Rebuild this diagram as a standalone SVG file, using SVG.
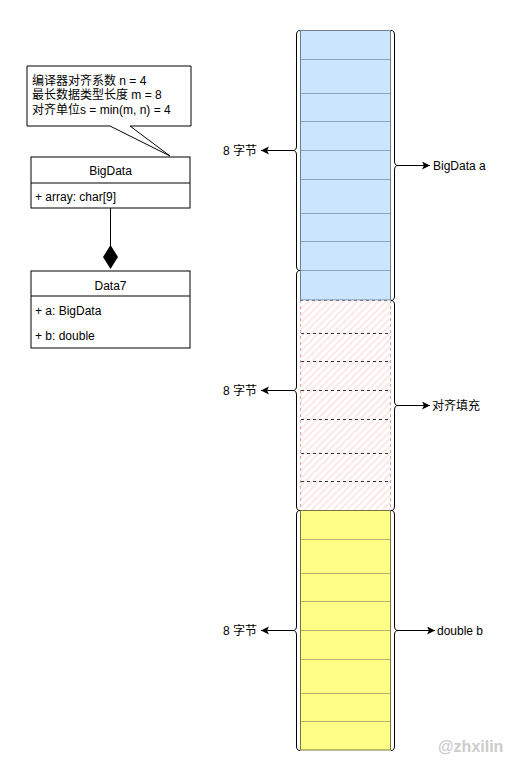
<svg xmlns="http://www.w3.org/2000/svg" width="531" height="781" viewBox="0 0 531 781">
<style>
text{font-family:"Liberation Sans","Noto Sans CJK SC",Arial,sans-serif;font-size:12px;fill:#000}
.box{fill:#fff;stroke:#000;stroke-width:1}
.brace{fill:none;stroke:#000;stroke-width:1}
.conn{fill:none;stroke:#000;stroke-width:1}
.bl{stroke:#8ea2ba;stroke-width:1}
.yl{stroke:#b3b36a;stroke-width:1}
.pl{stroke:#333;stroke-width:1;stroke-dasharray:3 3}
</style>
<defs>
<marker id="arr" markerUnits="userSpaceOnUse" markerWidth="10" markerHeight="10" refX="8" refY="4" orient="auto">
<path d="M0,0 L8,4 L0,8 L2,4 Z" fill="#000"/>
</marker>
<pattern id="hatch" patternUnits="userSpaceOnUse" width="5" height="5" patternTransform="rotate(45)">
<rect width="5" height="5" fill="#fff"/>
<line x1="1" y1="0" x2="1" y2="5" stroke="#fbdcdb" stroke-width="1.3"/>
</pattern>
</defs>
<rect width="531" height="781" fill="#fff"/>

<g id="note">
<path class="box" d="M27,66 H191 V126 H130 L170,156 L110,126 H27 Z"/>
<text x="32" y="85">编译器对齐系数 n = 4</text>
<text x="32" y="99">最长数据类型长度 m = 8</text>
<text x="32" y="114">对齐单位s = min(m, n) = 4</text>
</g>

<g id="bigdata">
<rect class="box" x="31" y="157" width="159" height="51"/>
<line class="conn" x1="31" y1="183" x2="190" y2="183"/>
<text x="110.5" y="175" text-anchor="middle">BigData</text>
<text x="35" y="201">+ array: char[9]</text>
</g>

<g id="data7">
<rect class="box" x="31" y="271" width="159" height="77"/>
<line class="conn" x1="31" y1="296" x2="190" y2="296"/>
<text x="110.5" y="290" text-anchor="middle">Data7</text>
<text x="35" y="315">+ a: BigData</text>
<text x="35" y="340">+ b: double</text>
</g>

<g id="blue-bytes">
<rect x="300.5" y="30.5" width="90" height="269.5" fill="#cce5ff" stroke="#6f7f92"/>
<line class="bl" x1="301" y1="59.5" x2="390" y2="59.5"/>
<line class="bl" x1="301" y1="93.5" x2="390" y2="93.5"/>
<line class="bl" x1="301" y1="121.5" x2="390" y2="121.5"/>
<line class="bl" x1="301" y1="150.5" x2="390" y2="150.5"/>
<line class="bl" x1="301" y1="179.5" x2="390" y2="179.5"/>
<line class="bl" x1="301" y1="213.5" x2="390" y2="213.5"/>
<line class="bl" x1="301" y1="241.5" x2="390" y2="241.5"/>
<line class="bl" x1="301" y1="270.5" x2="390" y2="270.5"/>
</g>

<g id="padding-bytes">
<rect x="300.5" y="300.5" width="90" height="209.5" fill="url(#hatch)"/>
<line x1="300.5" y1="300" x2="300.5" y2="510" stroke="#d9a5a3" stroke-dasharray="3 3"/>
<line x1="390.5" y1="300" x2="390.5" y2="510" stroke="#d9a5a3" stroke-dasharray="3 3"/>
<line x1="300" y1="300.5" x2="391" y2="300.5" stroke="#6f7f92" stroke-dasharray="3 3"/>
<line class="pl" x1="301" y1="333.5" x2="390" y2="333.5"/>
<line class="pl" x1="301" y1="361.5" x2="390" y2="361.5"/>
<line class="pl" x1="301" y1="390.5" x2="390" y2="390.5"/>
<line class="pl" x1="301" y1="419.5" x2="390" y2="419.5"/>
<line class="pl" x1="301" y1="453.5" x2="390" y2="453.5"/>
<line class="pl" x1="301" y1="481.5" x2="390" y2="481.5"/>
</g>

<g id="double-bytes">
<rect x="300.5" y="510.5" width="90" height="239.5" fill="#ffff88" stroke="#77773a"/>
<line class="yl" x1="301" y1="539.5" x2="390" y2="539.5"/>
<line class="yl" x1="301" y1="573.5" x2="390" y2="573.5"/>
<line class="yl" x1="301" y1="601.5" x2="390" y2="601.5"/>
<line class="yl" x1="301" y1="630.5" x2="390" y2="630.5"/>
<line class="yl" x1="301" y1="659.5" x2="390" y2="659.5"/>
<line class="yl" x1="301" y1="693.5" x2="390" y2="693.5"/>
<line class="yl" x1="301" y1="721.5" x2="390" y2="721.5"/>
</g>

<g id="left-braces">
<path class="brace" d="M300,30.5 Q296.5,30.5 296.5,35 V146 Q296.5,150.5 293,150.5 Q296.5,150.5 296.5,155 V266 Q296.5,270.5 300,270.5"/>
<path class="brace" d="M300,270.5 Q296.5,270.5 296.5,275 V386 Q296.5,390.5 293,390.5 Q296.5,390.5 296.5,395 V506 Q296.5,510.5 300,510.5"/>
<path class="brace" d="M300,510.5 Q296.5,510.5 296.5,515 V626 Q296.5,630.5 293,630.5 Q296.5,630.5 296.5,635 V746 Q296.5,750.5 300,750.5"/>
</g>

<g id="right-braces">
<path class="brace" d="M391,30.5 Q394.5,30.5 394.5,35 V161 Q394.5,165.5 398,165.5 Q394.5,165.5 394.5,170 V296 Q394.5,300.5 391,300.5"/>
<path class="brace" d="M391,300.5 Q394.5,300.5 394.5,305 V401 Q394.5,405.5 398,405.5 Q394.5,405.5 394.5,410 V506 Q394.5,510.5 391,510.5"/>
<path class="brace" d="M391,510.5 Q394.5,510.5 394.5,515 V626 Q394.5,630.5 398,630.5 Q394.5,630.5 394.5,635 V746 Q394.5,750.5 391,750.5"/>
</g>

<g id="connectors">
<line class="conn" x1="110.5" y1="208" x2="110.5" y2="246" stroke="#333"/>
<path d="M110.5,245 L118,257 L110.5,269 L103,257 Z" fill="#000"/>
<line class="conn" x1="293" y1="150.5" x2="261" y2="150.5" marker-end="url(#arr)"/>
<line class="conn" x1="293" y1="390.5" x2="261" y2="390.5" marker-end="url(#arr)"/>
<line class="conn" x1="293" y1="630.5" x2="261" y2="630.5" marker-end="url(#arr)"/>
<line class="conn" x1="398" y1="165.5" x2="430" y2="165.5" marker-end="url(#arr)"/>
<line class="conn" x1="398" y1="405.5" x2="430" y2="405.5" marker-end="url(#arr)"/>
<line class="conn" x1="398" y1="630.5" x2="435" y2="630.5" marker-end="url(#arr)"/>
</g>

<g id="labels">
<text x="257" y="155" text-anchor="end">8 字节</text>
<text x="257" y="395" text-anchor="end">8 字节</text>
<text x="257" y="635" text-anchor="end">8 字节</text>
<text x="433" y="170">BigData a</text>
<text x="432" y="410">对齐填充</text>
<text x="437" y="635">double b</text>
</g>

<text x="438" y="752" style="font-size:16px;font-weight:bold;fill:#cccccc">@zhxilin</text>
</svg>
